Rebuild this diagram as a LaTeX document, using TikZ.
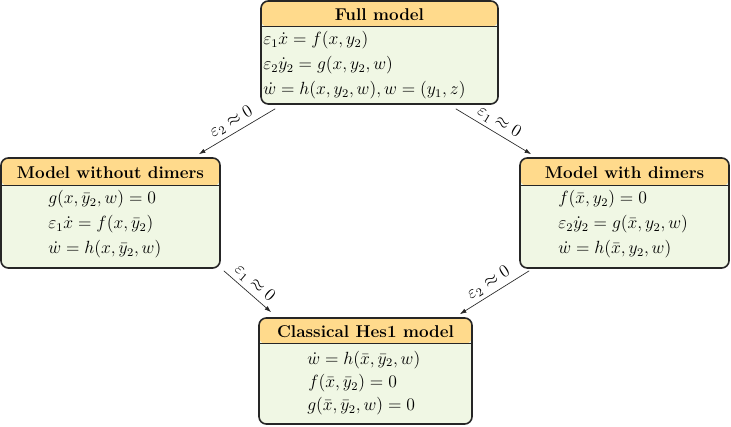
\documentclass[tikz,border=0pt]{standalone}
\usetikzlibrary{arrows.meta}
\newdimen\pxu \pxu=0.68pt
\definecolor{headcol}{RGB}{255,218,140}
\definecolor{bodycol}{RGB}{240,247,228}
\newcommand{\bigfs}{\fontsize{11.6pt}{14pt}\selectfont}
\tikzset{
  modelbox/.style={draw=black!85, line width=1.1pt, rounded corners=5pt, fill=bodycol, inner sep=0pt},
  header/.style={path picture={\fill[headcol] (path picture bounding box.north west) rectangle ([yshift=-#1]path picture bounding box.north east);}},
  sepline/.style={draw=black!85, line width=0.8pt},
  title/.style={font=\bigfs\bfseries, inner sep=0pt},
  eqn/.style={font=\bigfs, inner sep=0pt, anchor=base west},
  conn/.style={-{Latex[length=4.5pt,width=3pt]}, line width=0.45pt, draw=black!85},
  lbl/.style={font=\bigfs, sloped, above, inner sep=2.5pt}
}
\begin{document}
\begin{tikzpicture}[x=0.68pt,y=-0.68pt]
\useasboundingbox (0,0) rectangle (731,427);

% Full model
\node[modelbox, minimum width=237\pxu, minimum height=103\pxu, header=26\pxu] (full) at (379.5,52.5) {};
\draw[sepline] ([yshift=-26\pxu]full.north west) -- ([yshift=-26\pxu]full.north east);
\node[title] (fullt) at ([yshift=-14\pxu]full.north) {Full model};
\node[eqn] (full1) at (263,44.5) {$\varepsilon_1\dot x = f(x,y_2)$};
\node[eqn] (full2) at (263,70) {$\varepsilon_2\dot y_2 = g(x,y_2,w)$};
\node[eqn] (full3) at (263,94.5) {$\dot w = h(x,y_2,w), w=(y_1,z)$};

% Model without dimers
\node[modelbox, minimum width=219\pxu, minimum height=110\pxu, header=28\pxu] (nodim) at (110.5,213) {};
\draw[sepline] ([yshift=-28\pxu]nodim.north west) -- ([yshift=-28\pxu]nodim.north east);
\node[title] (nodimt) at ([yshift=-15\pxu]nodim.north) {Model without dimers};
\node[eqn] (nodim1) at (48,203.5) {$g(x,\bar y_2,w) = 0$};
\node[eqn] (nodim2) at (48,229) {$\varepsilon_1\dot x = f(x,\bar y_2)$};
\node[eqn] (nodim3) at (48,254) {$\dot w = h(x,\bar y_2,w)$};

% Model with dimers
\node[modelbox, minimum width=209\pxu, minimum height=110\pxu, header=28\pxu] (dim) at (624.5,213) {};
\draw[sepline] ([yshift=-28\pxu]dim.north west) -- ([yshift=-28\pxu]dim.north east);
\node[title] (dimt) at ([yshift=-15\pxu]dim.north) {Model with dimers};
\node[eqn] (dim1) at (558,203.5) {$f(\bar x,y_2) = 0$};
\node[eqn] (dim2) at (558,229) {$\varepsilon_2\dot y_2 = g(\bar x,y_2,w)$};
\node[eqn] (dim3) at (558,254) {$\dot w = h(\bar x,y_2,w)$};

% Classical Hes1 model
\node[modelbox, minimum width=213\pxu, minimum height=106\pxu, header=26\pxu] (hes) at (365.5,371) {};
\draw[sepline] ([yshift=-26\pxu]hes.north west) -- ([yshift=-26\pxu]hes.north east);
\node[title] (hest) at ([yshift=-14\pxu]hes.north) {Classical Hes1 model};
\node[eqn] (hes1) at (307,364) {$\dot w = h(\bar x,\bar y_2,w)$};
\node[eqn] (hes2) at (308,387.5) {$f(\bar x,\bar y_2) = 0$};
\node[eqn] (hes3) at (307,411) {$g(\bar x,\bar y_2,w) = 0$};

% connectors
\draw[conn] ([xshift=15\pxu,yshift=-4\pxu]full.south west) -- node[lbl]{$\varepsilon_2\approx 0$} ([xshift=-22\pxu,yshift=3\pxu]nodim.north east);
\draw[conn] ([xshift=-43\pxu,yshift=-4\pxu]full.south east) -- node[lbl]{$\varepsilon_1\approx 0$} ([xshift=12\pxu,yshift=3\pxu]dim.north west);
\draw[conn] ([xshift=3\pxu,yshift=-2\pxu]nodim.south east) -- node[lbl]{$\varepsilon_1\approx 0$} ([xshift=13\pxu,yshift=5\pxu]hes.north west);
\draw[conn] ([xshift=10\pxu,yshift=-2\pxu]dim.south west) -- node[lbl]{$\varepsilon_2\approx 0$} ([xshift=-13\pxu,yshift=3\pxu]hes.north east);
\end{tikzpicture}
\end{document}
